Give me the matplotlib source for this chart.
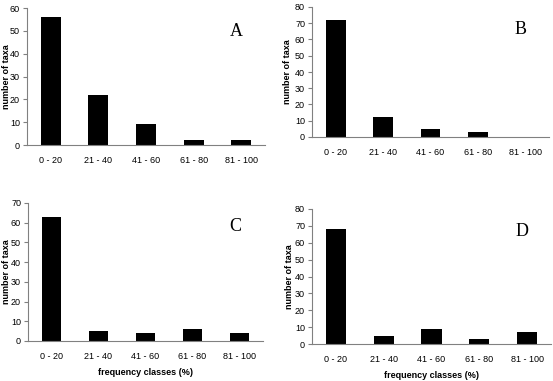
import matplotlib.pyplot as plt

classes = ["0 - 20", "21 - 40", "41 - 60", "61 - 80", "81 - 100"]
taxa_a = [56, 22, 9, 2, 2]
taxa_b = [72, 12, 5, 3, 0]
taxa_c = [63, 5, 4, 6, 4]
taxa_d = [68, 5, 9, 3, 7]

plt.rcParams['font.family'] = ['Liberation Sans', 'DejaVu Sans']

W, H = 553, 381
fig = plt.figure(figsize=(W / 100, H / 100), dpi=100)

# (left, right, top, bottom) in pixels, data, ymax, letter,
# right edge of the y label in pixels, show xlabel
panels = [
    ((27, 265, 8, 145), taxa_a, 60, "A", 11, False),
    ((312, 549, 7, 137), taxa_b, 80, "B", 292, False),
    ((28, 263, 203, 341), taxa_c, 70, "C", 11, True),
    ((312, 551, 209, 344), taxa_d, 80, "D", 294, True),
]

for (l, r, t, b), vals, ymax, letter, ylx, xl in panels:
    ax = fig.add_axes([l / W, 1 - b / H, (r - l) / W, (b - t) / H])
    ax.bar(range(len(classes)), vals, width=0.42, color="black")
    ax.set_xlim(-0.5, len(classes) - 0.5)
    ax.set_ylim(0, ymax)
    ax.set_yticks(range(0, ymax + 1, 10))
    ax.set_xticks(range(len(classes)))
    ax.set_xticklabels(classes)
    for s in ["top", "right"]:
        ax.spines[s].set_visible(False)
    for s in ["left", "bottom"]:
        ax.spines[s].set_color("#808080")
        ax.spines[s].set_linewidth(0.8)
    ax.tick_params(axis="y", length=3, width=0.8, color="#808080",
                   labelsize=6.5, pad=2)
    ax.tick_params(axis="x", length=0, labelsize=6.5, pad=8)
    ax.set_ylabel("number of taxa", fontsize=6.5, fontweight="bold")
    ax.yaxis.set_label_coords((ylx - l) / (r - l), 0.5)
    if xl:
        ax.set_xlabel("frequency classes (%)", fontsize=6.5,
                      fontweight="bold", labelpad=5)
    ax.text(0.88, 0.83, letter, transform=ax.transAxes, fontsize=13,
            family="Liberation Serif", ha="center", va="center")

fig.savefig("out.png", dpi=100)
